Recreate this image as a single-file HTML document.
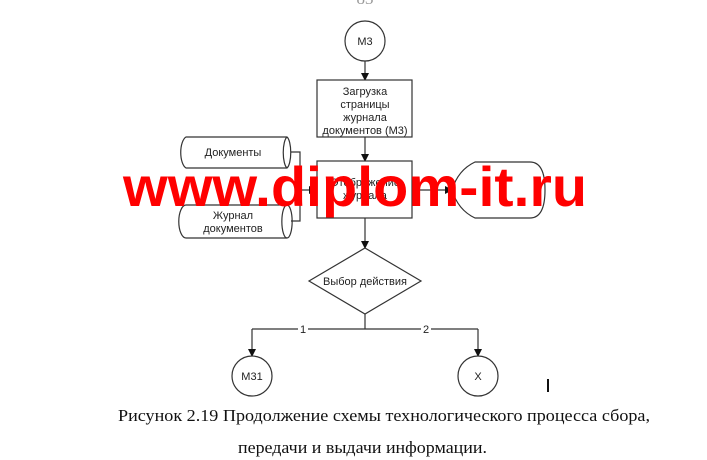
<!DOCTYPE html>
<html><head><meta charset="utf-8"><style>
html,body{margin:0;padding:0;background:#fff;}
svg{display:block;}
.t{font-family:"Liberation Sans",sans-serif;font-size:11px;fill:#222;text-anchor:middle;}
.c{font-family:"Liberation Serif",serif;font-size:17px;fill:#111;}
</style></head><body>
<svg width="707" height="460" viewBox="0 0 707 460" xmlns="http://www.w3.org/2000/svg">
<defs><marker id="a" markerWidth="8" markerHeight="8" refX="7" refY="4" orient="auto" markerUnits="userSpaceOnUse"><path d="M0,0 L8,4 L0,8 z" fill="#111"/></marker></defs>
<text x="365" y="4" class="c" text-anchor="middle" fill="#999" style="fill:#999">83</text>
<g stroke="#333" stroke-width="1.2" fill="none">
<circle cx="365" cy="41" r="20" fill="#fff"/>
<line x1="365" y1="61" x2="365" y2="80" marker-end="url(#a)"/>
<rect x="317" y="80" width="95" height="57" fill="#fff"/>
<line x1="365" y1="137" x2="365" y2="161" marker-end="url(#a)"/>
<rect x="317" y="161" width="95" height="57" fill="#fff"/>
<path d="M186,137 H287 A5,16 0 0 1 287,168 H186 A7,16 0 0 1 186,137 Z" fill="#fff"/>
<path d="M287,137 A5,16 0 0 0 287,168"/>
<path d="M186,205 H287 A5,16 0 0 1 287,238 H186 A7,16 0 0 1 186,205 Z" fill="#fff"/>
<path d="M287,205 A5,16 0 0 0 287,238"/>
<polyline points="291,152 300,152 300,190 316,190" marker-end="url(#a)"/>
<polyline points="291,221 300,221 300,190"/>
<line x1="412" y1="190" x2="452" y2="190" marker-end="url(#a)"/>
<path d="M475,162 H530 Q545,162 545,190 Q545,218 530,218 H475 Q458,210 452,190 Q458,170 475,162 Z" fill="#fff"/>
<line x1="365" y1="218" x2="365" y2="248" marker-end="url(#a)"/>
<polygon points="365,248 421,281 365,314 309,281" fill="#fff"/>
<line x1="365" y1="314" x2="365" y2="329"/>
<polyline points="252,329 478,329"/>
<line x1="252" y1="329" x2="252" y2="356" marker-end="url(#a)"/>
<line x1="478" y1="329" x2="478" y2="356" marker-end="url(#a)"/>
<circle cx="252" cy="376" r="20" fill="#fff"/>
<circle cx="478" cy="376" r="20" fill="#fff"/>
</g>
<rect x="298" y="323" width="10" height="12" fill="#fff"/>
<rect x="421" y="323" width="10" height="12" fill="#fff"/>
<text x="303" y="333" class="t">1</text>
<text x="426" y="333" class="t">2</text>
<text x="365" y="45" class="t">М3</text>
<text x="365" y="95" class="t">Загрузка</text>
<text x="365" y="108" class="t">страницы</text>
<text x="365" y="121" class="t">журнала</text>
<text x="365" y="134" class="t">документов (М3)</text>
<text x="365" y="186" class="t">Отображение</text>
<text x="365" y="199" class="t">журнала</text>
<text x="233" y="156" class="t">Документы</text>
<text x="233" y="219" class="t">Журнал</text>
<text x="233" y="232" class="t">документов</text>
<text x="365" y="285" class="t">Выбор действия</text>
<text x="252" y="380" class="t">М31</text>
<text x="478" y="380" class="t">Х</text>
<rect x="547" y="379" width="2" height="13" fill="#111"/>
<text x="123" y="206" textLength="464" lengthAdjust="spacingAndGlyphs" style="font-family:'Liberation Sans',sans-serif;font-size:56px;font-weight:bold;fill:#f00">www.diplom-it.ru</text>
<text x="118" y="421" class="c" textLength="532" lengthAdjust="spacingAndGlyphs">Рисунок 2.19  Продолжение схемы технологического процесса сбора,</text>
<text x="238" y="453" class="c" textLength="249" lengthAdjust="spacingAndGlyphs">передачи и выдачи информации.</text>
</svg>
</body></html>
